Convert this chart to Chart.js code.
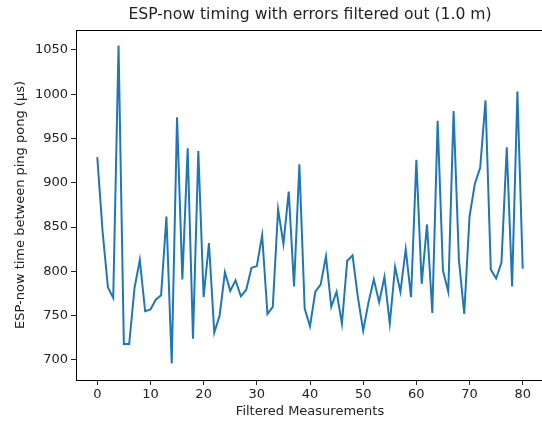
<!DOCTYPE html>
<html lang="en">
<head>
  <meta charset="UTF-8" />
  <title>ESP-now timing</title>
  <script src="https://cdn.jsdelivr.net/npm/chart.js"></script>
  <style>
    html, body { margin: 0; padding: 0; background: #fff; overflow: hidden; }
    #chart { display: block; }
  </style>
</head>
<body>
  <canvas id="chart" width="546" height="421"></canvas>

  <script>
    // timing per filtered measurement, in microseconds
    const timings = [
      929, 845, 782, 770, 1055, 718, 718, 781, 813, 755,
      757, 768, 773, 862, 696, 974, 791, 939, 724, 936,
      771, 832, 731, 750, 799, 778, 790, 772, 779, 804,
      806, 841, 752, 760, 870, 831, 890, 783, 921, 758,
      738, 777, 785, 817, 760, 777, 741, 812, 818, 771,
      733, 765, 791, 765, 794, 741, 805, 777, 825, 771,
      926, 786, 853, 753, 970, 801, 777, 981, 813, 752,
      862, 899, 917, 993, 802, 792, 810, 940, 783, 1003, 803
    ];
    const xTicks = [0, 10, 20, 30, 40, 50, 60, 70, 80];
    const yTicks = [700, 750, 800, 850, 900, 950, 1000, 1050];
    const titleText = 'ESP-now timing with errors filtered out (1.0 m)';

    const points = timings.map((v, i) => ({ x: i, y: v }));
    const textColor = '#222';
    const tickFont = { family: 'DejaVu Sans', size: 13 };

    // matplotlib-style box around the axes, title centred over the axes
    const frame = {
      id: 'frame',
      afterDraw(chart) {
        const { ctx, chartArea: a } = chart;
        ctx.save();
        ctx.strokeStyle = '#000';
        ctx.lineWidth = 1;
        ctx.strokeRect(Math.round(a.left) + 0.5, Math.round(a.top) + 0.5,
          Math.round(a.right - a.left), Math.round(a.bottom - a.top));
        ctx.fillStyle = textColor;
        ctx.font = '15.6px "DejaVu Sans"';
        ctx.textAlign = 'center';
        ctx.textBaseline = 'middle';
        ctx.fillText(titleText, (a.left + a.right) / 2, 15);
        ctx.restore();
      }
    };

    new Chart(document.getElementById('chart'), {
      type: 'line',
      data: {
        datasets: [{
          data: points,
          borderColor: '#1f77b4',
          borderWidth: 2,
          pointRadius: 0,
          tension: 0,
          fill: false
        }]
      },
      options: {
        responsive: false,
        animation: false,
        layout: { padding: { left: 0, right: 2, top: 30, bottom: 0 } },
        plugins: {
          legend: { display: false },
          tooltip: { enabled: false },
          title: { display: false }
        },
        scales: {
          x: {
            type: 'linear',
            min: -4,
            max: 84,
            afterFit: s => { s.height = 41; },
            afterBuildTicks: s => { s.ticks = xTicks.map(v => ({ value: v })); },
            border: { display: false },
            grid: { drawOnChartArea: false, drawTicks: true, tickLength: 5, color: textColor },
            ticks: { color: textColor, font: tickFont, padding: 2, maxRotation: 0, callback: v => String(v) },
            title: {
              display: true,
              text: 'Filtered Measurements',
              color: textColor,
              font: tickFont,
              padding: { top: 0, bottom: 1.5 }
            }
          },
          y: {
            min: 677.4,
            max: 1072.5,
            afterFit: s => { s.width = 76; },
            afterBuildTicks: s => { s.ticks = yTicks.map(v => ({ value: v })); },
            border: { display: false },
            grid: { drawOnChartArea: false, drawTicks: true, tickLength: 5, color: textColor },
            ticks: { color: textColor, font: tickFont, padding: 3, callback: v => String(v) },
            title: {
              display: true,
              text: 'ESP-now time between ping pong (µs)',
              color: textColor,
              font: tickFont,
              padding: { top: 13, bottom: 0 }
            }
          }
        }
      },
      plugins: [frame]
    });
  </script>
</body>
</html>
